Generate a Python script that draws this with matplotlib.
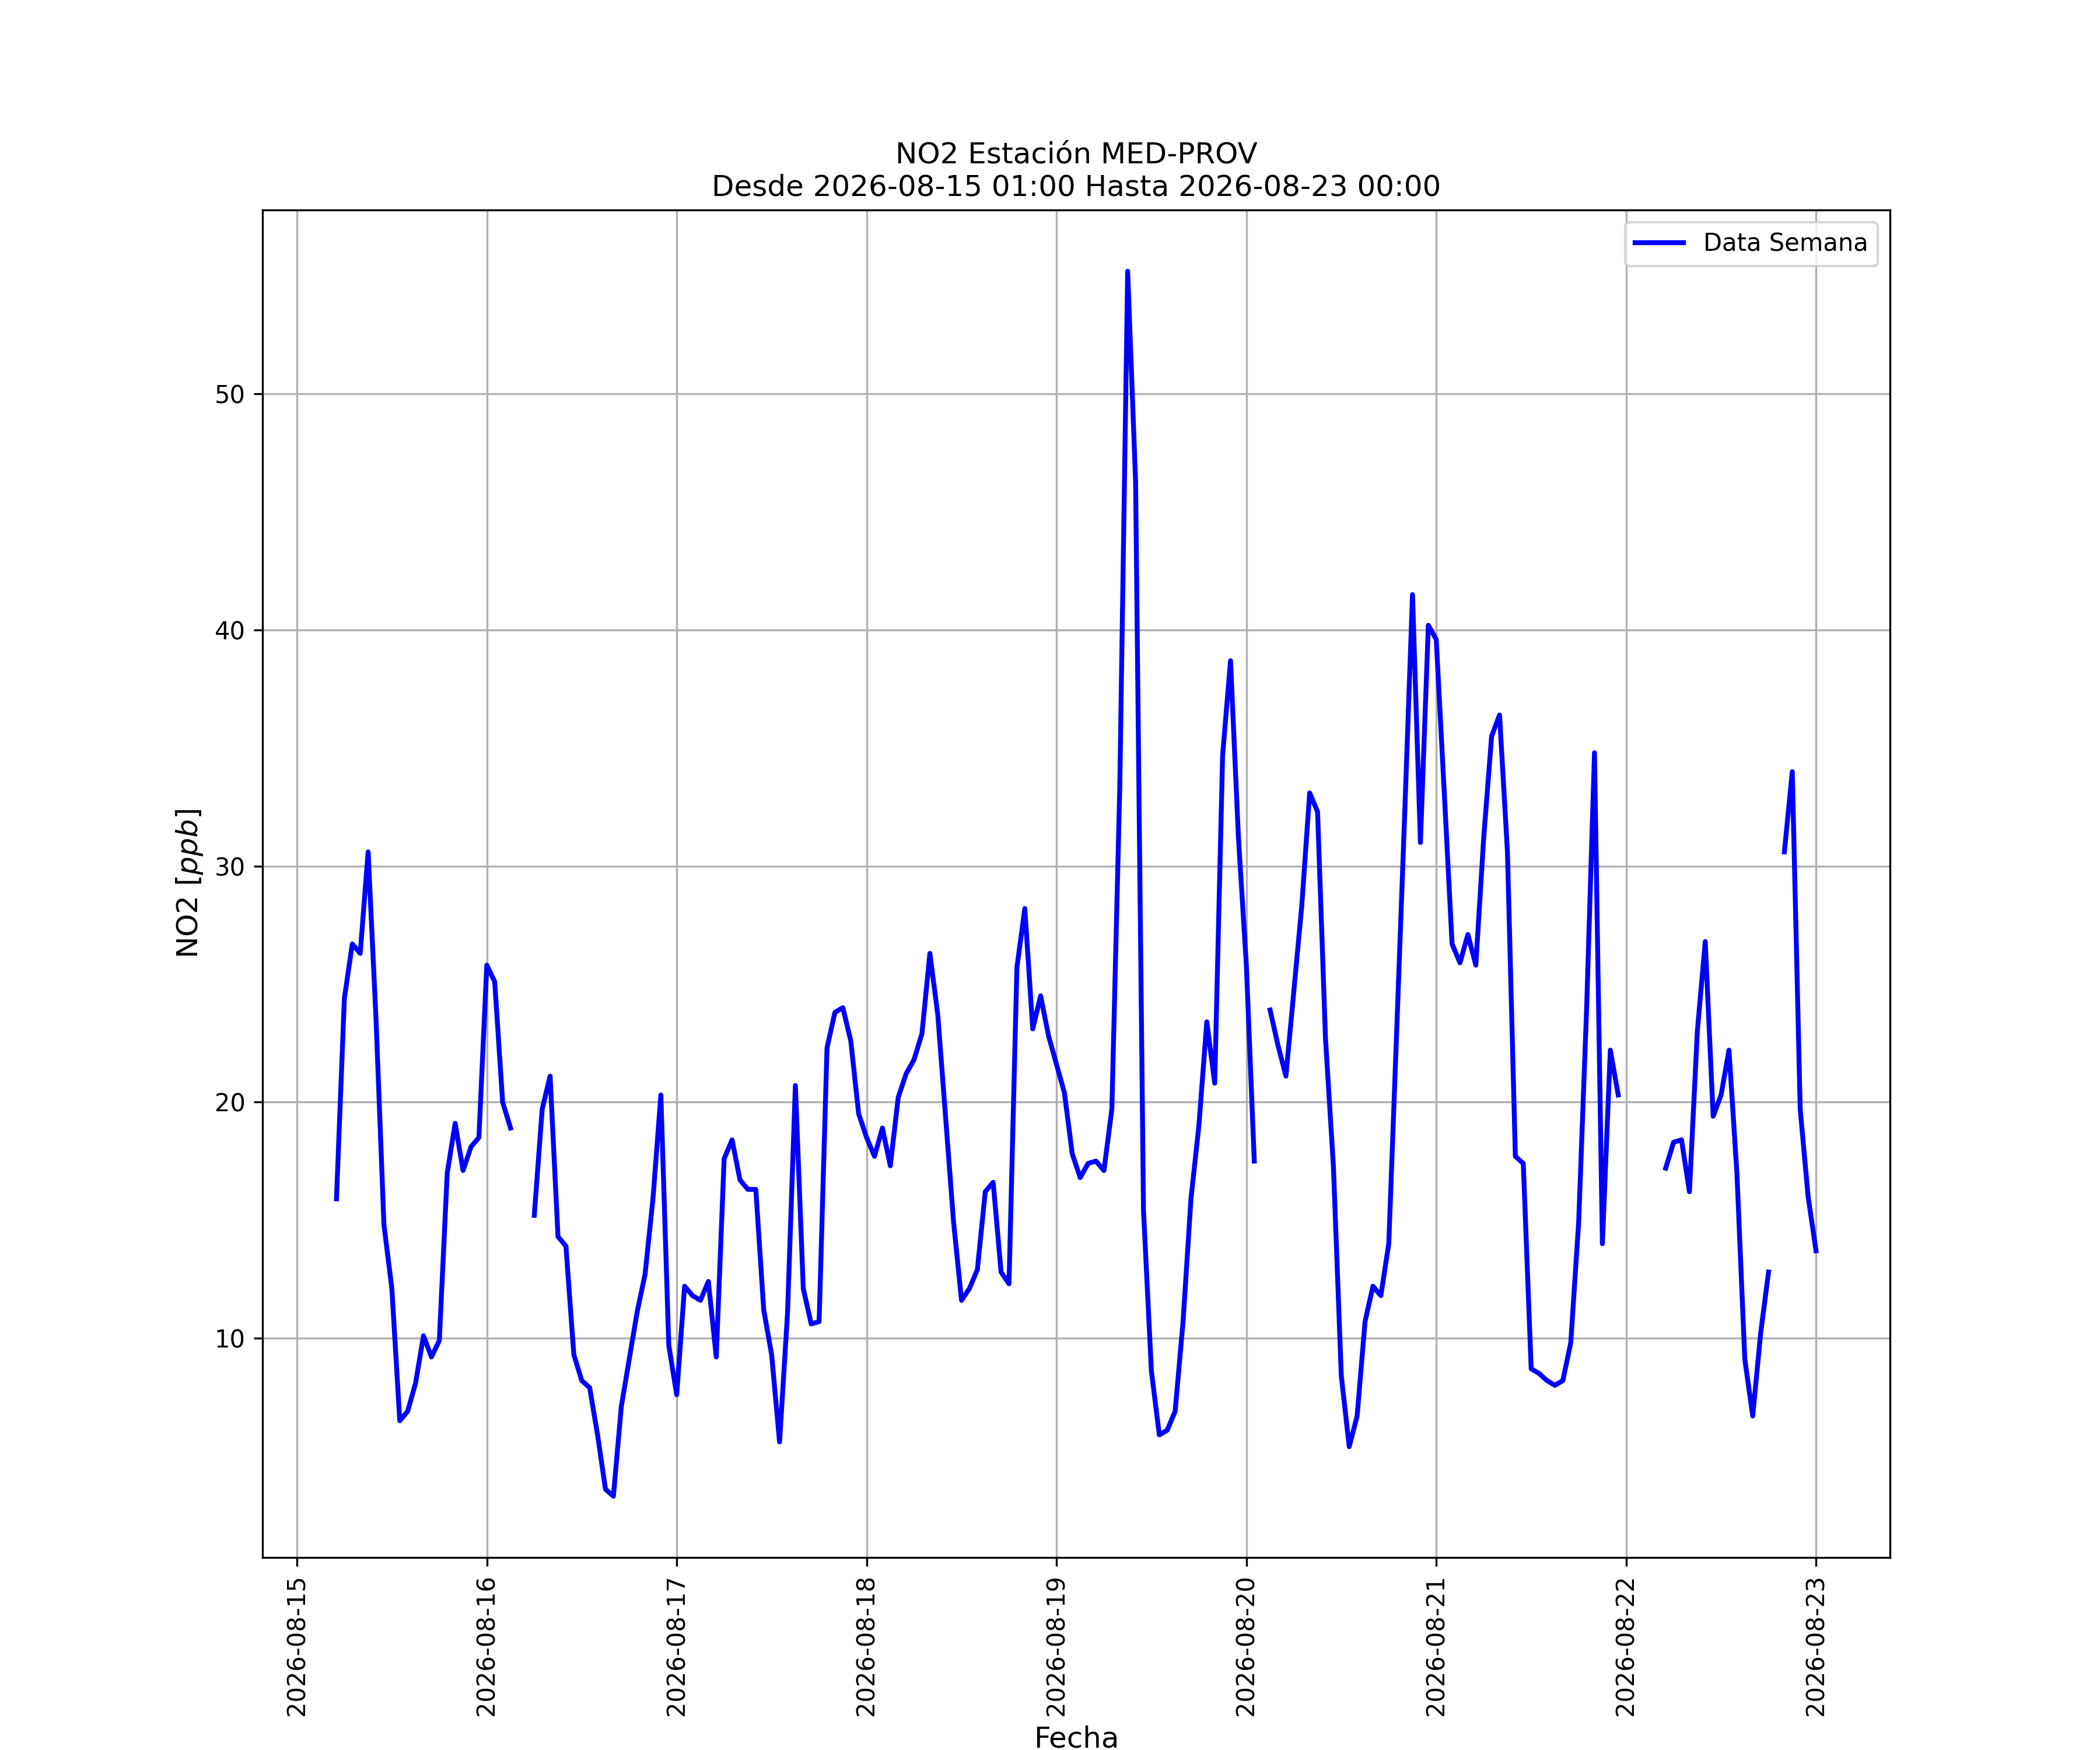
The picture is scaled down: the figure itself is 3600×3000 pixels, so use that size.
import numpy as np
import pandas as pd
import matplotlib
matplotlib.use('Agg')
import matplotlib.pyplot as plt
import matplotlib.dates as mdates

nan = np.nan

# hourly NO2 [ppb], each list runs 01:00 .. 24:00 (= next day 00:00)
d15 = [nan, nan, nan, nan, 15.9, 24.4, 26.7, 26.3, 30.6, 23.5, 14.8, 12.1,
       6.5, 6.9, 8.1, 10.1, 9.2, 9.9, 17.0, 19.1, 17.1, 18.1, 18.5, 25.8]
d16 = [25.1, 20.0, 18.9, nan, nan, 15.2, 19.7, 21.1, 14.3, 13.9, 9.3, 8.2,
       7.9, 5.9, 3.6, 3.3, 7.1, 9.1, 11.1, 12.7, 15.9, 20.3, 9.7, 7.6]
d17 = [12.2, 11.8, 11.6, 12.4, 9.2, 17.6, 18.4, 16.7, 16.3, 16.3, 11.2, 9.3,
       5.6, 11.0, 20.7, 12.1, 10.6, 10.7, 22.3, 23.8, 24.0, 22.6, 19.5, 18.5]
d18 = [17.7, 18.9, 17.3, 20.2, 21.2, 21.8, 22.9, 26.3, 23.7, 19.3, 14.9, 11.6,
       12.1, 12.9, 16.2, 16.6, 12.8, 12.3, 25.7, 28.2, 23.1, 24.5, 22.8, 21.6]
d19 = [20.4, 17.8, 16.8, 17.4, 17.5, 17.1, 19.7, 33.3, 55.2, 46.3, 15.4, 8.6,
       5.9, 6.1, 6.9, 10.7, 15.9, 19.0, 23.4, 20.8, 34.7, 38.7, 31.2, 25.8]
d20 = [17.5, nan, 23.9, 22.4, 21.1, 24.7, 28.3, 33.1, 32.3, 22.7, 17.3, 8.4,
       5.4, 6.7, 10.7, 12.2, 11.8, 14.0, 23.0, 32.1, 41.5, 31.0, 40.2, 39.6]
d21 = [33.2, 26.7, 25.9, 27.1, 25.8, 31.2, 35.5, 36.4, 30.6, 17.7, 17.4, 8.7,
       8.5, 8.2, 8.0, 8.2, 9.8, 14.9, 23.9, 34.8, 14.0, 22.2, 20.3, nan]
d22 = [nan, nan, nan, nan, 17.2, 18.3, 18.4, 16.2, 23.0, 26.8, 19.4, 20.3,
       22.2, 17.0, 9.1, 6.7, 10.2, 12.8, nan, 30.6, 34.0, 19.7, 16.0, 13.7]

no2 = d15 + d16 + d17 + d18 + d19 + d20 + d21 + d22
fechas = pd.date_range('2026-08-15 01:00', periods=len(no2), freq='h')

fig = plt.figure(figsize=(12, 10), dpi=300)
ax = fig.add_subplot(111)

ax.plot(fechas, no2, color='blue', lw=2, label='Data Semana')

ax.set_title('NO2 Estación MED-PROV\nDesde 2026-08-15 01:00 Hasta 2026-08-23 00:00', fontsize=12)
ax.set_xlabel('Fecha', fontsize=12)
ax.set_ylabel('NO2 [$ppb$]', fontsize=12)
ax.xaxis.set_major_locator(mdates.DayLocator())
ax.xaxis.set_major_formatter(mdates.DateFormatter('%Y-%m-%d'))
plt.setp(ax.get_xticklabels(), rotation=90)
ax.grid(True)
ax.legend(loc='upper right')

plt.savefig('out.png', dpi=300)
